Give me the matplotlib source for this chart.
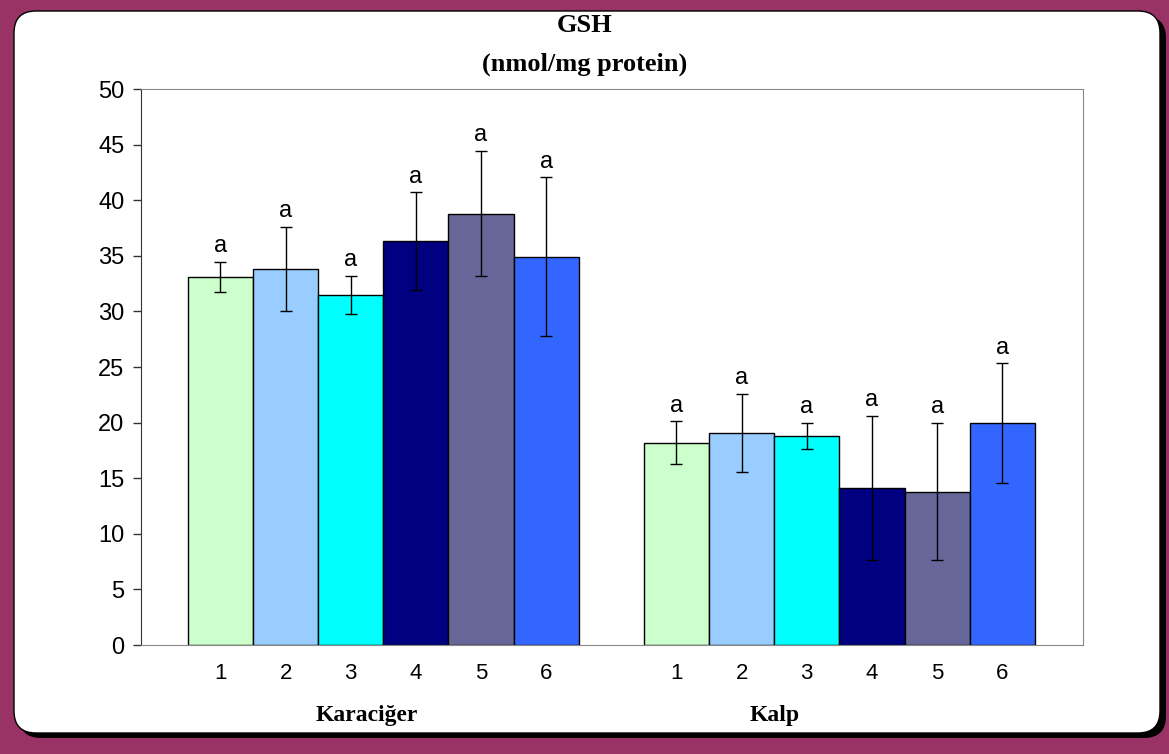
import numpy as np
import matplotlib
matplotlib.use("Agg")
import matplotlib.pyplot as plt
from matplotlib.patches import FancyBboxPatch
from matplotlib.transforms import IdentityTransform, blended_transform_factory

# GSH (nmol/mg protein) per group, liver (Karaciğer) and heart (Kalp)
groups = ["Karaciğer", "Kalp"]
tick_labels = ["1", "2", "3", "4", "5", "6"]
liver_mean = [33.1, 33.8, 31.5, 36.3, 38.8, 34.9]
liver_err = [1.35, 3.8, 1.7, 4.4, 5.65, 7.15]
heart_mean = [18.2, 19.1, 18.8, 14.1, 13.8, 19.95]
heart_err = [1.9, 3.5, 1.2, 6.5, 6.2, 5.4]
letters = ["a"] * 6
colors = ["#CCFFCC", "#99CCFF", "#00FFFF", "#000080", "#666699", "#3366FF"]

W, H = 1169, 754
fig = plt.figure(figsize=(W / 100, H / 100), dpi=100)
fig.patch.set_facecolor("#993366")

# white rounded panel with black drop shadow (pixel coords)
shadow = FancyBboxPatch((19, 16), 1147, 722, boxstyle="round,pad=0,rounding_size=22",
                        transform=IdentityTransform(), facecolor="black", edgecolor="none",
                        zorder=-3)
panel = FancyBboxPatch((14, 21), 1146, 722, boxstyle="round,pad=0,rounding_size=22",
                       transform=IdentityTransform(), facecolor="white", edgecolor="black", lw=1,
                       zorder=-2)
fig.add_artist(shadow)
fig.add_artist(panel)

ax = fig.add_axes([141 / W, 1 - 645 / H, (1083 - 141) / W, (645 - 89) / H])
ax.set_facecolor("white")

x_liver = np.arange(6)
x_heart = np.arange(6) + 7
for xs, means, errs in [(x_liver, liver_mean, liver_err), (x_heart, heart_mean, heart_err)]:
    ax.bar(xs, means, width=1.0, color=colors, edgecolor="black", linewidth=1, zorder=2)
    ax.errorbar(xs, means, yerr=errs, fmt="none", ecolor="black", elinewidth=1,
                capsize=4.5, capthick=1, zorder=3)
    for x, m, e, t in zip(xs, means, errs, letters):
        ax.text(x, m + e + 0.4, t, ha="center", va="bottom", fontsize=17,
                family="Liberation Sans", zorder=4)

ax.set_xlim(-1.22, 13.24)
ax.set_ylim(0, 50)
ax.set_yticks(np.arange(0, 51, 5))
ax.tick_params(axis="y", direction="out", length=6, width=1, labelsize=17, pad=6, color="#333333")
for lab in ax.get_yticklabels():
    lab.set_family("Liberation Sans")

ax.set_xticks(np.concatenate([x_liver, x_heart]))
ax.set_xticklabels(tick_labels * 2, fontsize=16, family="Liberation Sans")
ax.tick_params(axis="x", length=0, pad=13)

for side in ["top", "right", "bottom"]:
    ax.spines[side].set_color("#888888")
ax.spines["left"].set_color("#333333")

trans = blended_transform_factory(ax.transData, ax.transAxes)
for gx, name in zip([2.25, 8.5], groups):
    ax.text(gx, -0.126, name, transform=trans, ha="center", va="center",
            fontsize=17, fontweight="bold", family="Liberation Serif")

fig.text(0.5, 1 - 25 / H, "GSH", ha="center", va="center", fontsize=19,
         fontweight="bold", family="Liberation Serif")
fig.text(0.5, 1 - 64 / H, "(nmol/mg protein)", ha="center", va="center", fontsize=19,
         fontweight="bold", family="Liberation Serif")

fig.savefig("out.png", dpi=100, facecolor=fig.get_facecolor())
